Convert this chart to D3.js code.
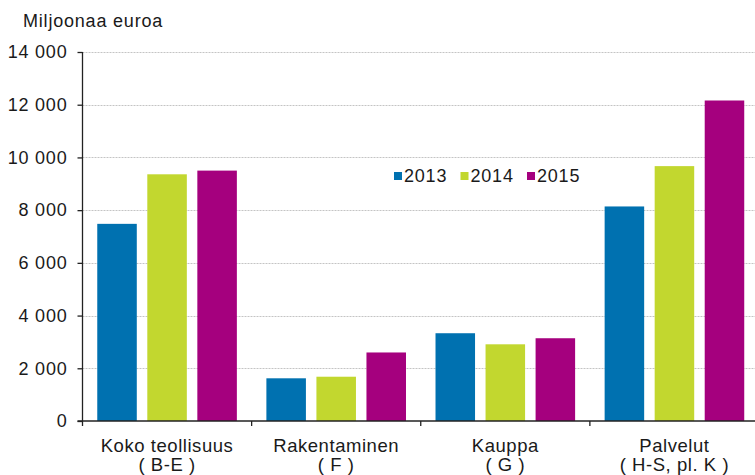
<!DOCTYPE html>
<html>
<head>
<meta charset="utf-8">
<script src="https://cdn.jsdelivr.net/npm/d3@7"></script>
<style>
  body { margin: 0; background: #fff; }
  text { font-family: "Liberation Sans", Arial, sans-serif; fill: #1a1a1a; }
  .grid line { stroke: #c4c4c4; stroke-dasharray: 2,1; }
</style>
</head>
<body>
<svg id="chart" width="755" height="475"></svg>
<script>
// values, million euros
const categories = ["Koko teollisuus", "Rakentaminen", "Kauppa", "Palvelut"];
const subLabels  = ["( B-E )", "( F )", "( G )", "( H-S, pl. K )"];
const years      = ["2013", "2014", "2015"];
const v2013      = [7480, 1620, 3330, 8140];
const v2014      = [9360, 1680, 2910, 9670];
const v2015      = [9500, 2600, 3140, 12160];
const yTicks     = [0, 2000, 4000, 6000, 8000, 10000, 12000, 14000];
const colors     = ["#0071b0", "#c2d72f", "#a5007e"];

const series = [v2013, v2014, v2015];

const svg = d3.select("#chart");
const mLeft = 82.5, mRight = 759, mTop = 52, mBottom = 421;

const x = d3.scaleBand().domain(categories).range([mLeft, mRight]).padding(0);
const xs = d3.scaleBand().domain(years).range([0, x.bandwidth()])
  .paddingInner(0.21).paddingOuter(0.295);
const y = d3.scaleLinear().domain([0, 14000]).range([mBottom, mTop]);

const fmt = d => d3.format(",")(d).replace(/,/g, " ");

// gridlines
svg.append("g").attr("class", "grid")
  .selectAll("line")
  .data(yTicks.filter(d => d > 0))
  .join("line")
  .attr("x1", mLeft).attr("x2", 755)
  .attr("y1", d => Math.round(y(d)) + 0.5).attr("y2", d => Math.round(y(d)) + 0.5);

// bars
categories.forEach((c, ci) => {
  const g = svg.append("g").attr("transform", `translate(${x(c)},0)`);
  g.selectAll("rect")
    .data(years.map((yr, si) => ({ yr, v: series[si][ci], si })))
    .join("rect")
    .attr("x", d => xs(d.yr))
    .attr("width", xs.bandwidth())
    .attr("y", d => y(d.v))
    .attr("height", d => y(0) - y(d.v))
    .attr("fill", d => colors[d.si]);
});

// y axis
const yAxis = svg.append("g")
  .attr("transform", `translate(${mLeft},0)`)
  .call(d3.axisLeft(y).tickValues(yTicks).tickFormat(fmt).tickSize(5).tickPadding(10));
yAxis.select(".domain").attr("stroke", "#222").attr("stroke-width", 1.3).attr("d", `M0,${mTop}V${mBottom}`);
yAxis.selectAll(".tick line").attr("stroke", "#222").attr("stroke-width", 1.3);
yAxis.selectAll("text").style("font-size", "18px").style("letter-spacing", "0.8px")
  .attr("fill", "#1a1a1a");

// x axis: ticks at category boundaries
const xa = svg.append("g");
xa.append("line")
  .attr("x1", mLeft - 5).attr("x2", 755)
  .attr("y1", mBottom).attr("y2", mBottom)
  .attr("stroke", "#222").attr("stroke-width", 1.3);
xa.selectAll(".bt")
  .data(categories)
  .join("line")
  .attr("class", "bt")
  .attr("x1", d => x(d)).attr("x2", d => x(d))
  .attr("y1", mBottom).attr("y2", mBottom + 5)
  .attr("stroke", "#222").attr("stroke-width", 1.3);

// category labels, two lines
const cl = svg.append("g").selectAll("text")
  .data(categories)
  .join("text")
  .attr("text-anchor", "middle")
  .style("font-size", "18.5px")
  .style("letter-spacing", "0.55px")
  .attr("x", d => x(d) + x.bandwidth() / 2);
cl.append("tspan").attr("y", 452).text(d => d);
cl.append("tspan").attr("x", d => x(d) + x.bandwidth() / 2).attr("y", 471)
  .text((d, i) => subLabels[i]);

// unit title
svg.append("text").attr("x", 23).attr("y", 27)
  .style("font-size", "18px").style("letter-spacing", "0.8px").text("Miljoonaa euroa");

// legend
const lg = svg.append("g").attr("transform", "translate(394,172)");
const item = lg.selectAll("g").data(years).join("g")
  .attr("transform", (d, i) => `translate(${i * 66.5},0)`);
item.append("rect").attr("width", 8).attr("height", 8)
  .attr("fill", (d, i) => colors[i]);
item.append("text").attr("x", 10).attr("y", 9.5)
  .style("font-size", "18px").style("letter-spacing", "0.8px").text(d => d);
</script>
</body>
</html>
